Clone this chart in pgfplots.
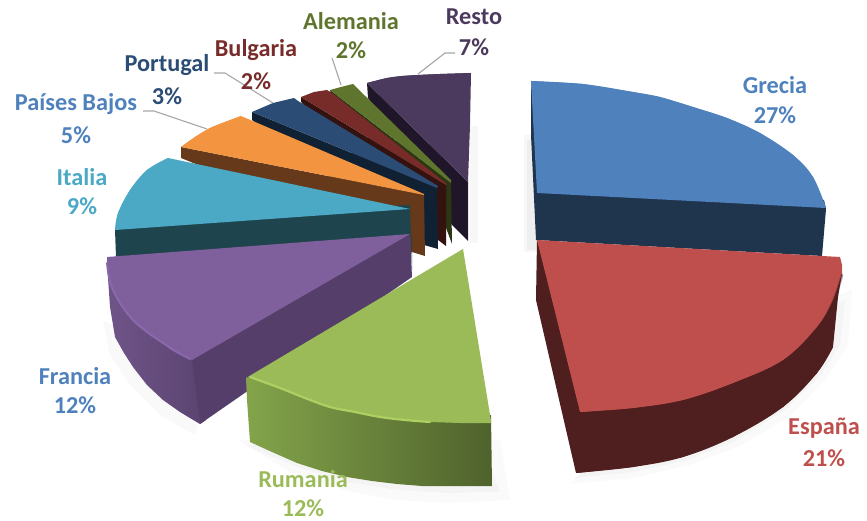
\documentclass[border=0pt]{standalone}
\usepackage{fontspec}
\setmainfont{Carlito}
\usepackage{pgfplots}
\pgfplotsset{compat=1.18}
\definecolor{cGr}{HTML}{4F81BD}\definecolor{cGrS}{HTML}{1F344D}
\definecolor{cEs}{HTML}{BE4F4C}\definecolor{cEsS}{HTML}{4E1F1E}
\definecolor{cRu}{HTML}{9BBB59}\definecolor{cRuL}{HTML}{83A44A}\definecolor{cRuR}{HTML}{4F622C}\definecolor{cRuH}{HTML}{AECF62}
\definecolor{cFr}{HTML}{7F609C}\definecolor{cFrS}{HTML}{553F6A}\definecolor{cFrO}{HTML}{6F5489}\definecolor{cFrH}{HTML}{8A68AC}
\definecolor{cIt}{HTML}{4BA9C5}\definecolor{cItS}{HTML}{1E444E}
\definecolor{cPb}{HTML}{F39441}\definecolor{cPbS}{HTML}{65391A}
\definecolor{cPt}{HTML}{2A4C75}\definecolor{cPtS}{HTML}{102133}
\definecolor{cBu}{HTML}{772C2A}\definecolor{cBuS}{HTML}{33120F}
\definecolor{cAl}{HTML}{5F752D}\definecolor{cAlS}{HTML}{2B3612}
\definecolor{cRe}{HTML}{4C3A5E}\definecolor{cReS}{HTML}{1F162A}
\definecolor{lead}{HTML}{A6A6A6}
\tikzset{
  pc/.style={draw=none,fill=#1},
  arc/.style={draw=none,fill=#1,smooth,tension=0.6},
  sh/.style={draw=none,fill=black,fill opacity=#1},
  lb/.style={font=\fontsize{24.3}{26}\selectfont\bfseries,text=#1,inner sep=0pt,anchor=center},
  ld/.style={draw=lead,line width=1.1pt,sharp plot},
  bev/.style={draw=#1,fill=none,smooth,tension=0.6,line cap=round},
}
\begin{document}
\begin{tikzpicture}
\useasboundingbox (0,0) rectangle (867pt,521pt);
\begin{axis}[at={(0,0)},anchor=south west,scale only axis,width=867pt,height=521pt,
  xmin=0,xmax=867,ymin=0,ymax=521,y dir=reverse,hide axis,clip=false,no markers]
% soft shadows
\addplot[sh=0.03] coordinates {(524,135)(524,252)(540,252)(540,135)};
\addplot[sh=0.03] coordinates {(527,140)(527,250)(540,250)(540,140)};
\addplot[sh=0.03] coordinates {(470,126)(478,126)(478,243)(470,243)};
\addplot[sh=0.02] coordinates {(570,484)(633,478)(690,465)(740,446)(790,416)(825,380)(848,345)(852,290)(700,350)};
\addplot[sh=0.025] coordinates {(575,478)(633,472)(685,461)(735,441)(785,410)(820,376)(840,345)(845,300)(700,350)};
\addplot[sh=0.02] coordinates {(238,440)(290,472)(347,491)(397,500)(447,503)(510,500)(500,440)};
\addplot[sh=0.025] coordinates {(245,445)(297,467)(347,482)(397,490)(447,493)(500,492)(480,440)};
\addplot[sh=0.025] coordinates {(103,320)(110,355)(130,385)(160,415)(195,435)(210,380)};
% Resto 7%
\addplot[pc=cReS] coordinates {(367,83)(468,182)(468,241)(452,225)(368,98)};
\addplot[arc=cRe] coordinates {(367,83)(387,78)(402,76)(418,75)(440,74)(471,73)};
\addplot[pc=cRe] coordinates {(367,83)(387,78)(402,76)(418,75)(440,74)(471,73)(470,125)(468,182)};
% Alemania 2%
\addplot[pc=cAlS] coordinates {(330,90)(451,183)(452,244)(445,225)(331,95)};
\addplot[pc=cAl] coordinates {(330,90)(341,87)(353,84)(451,180)(451,183)};
% Bulgaria 2%
\addplot[pc=cBuS] coordinates {(301,97)(446,185)(446,246)(438,240)(301,102)};
\addplot[pc=cBu] coordinates {(301,97)(314,92)(327,90)(332,93)(447,184)(446,185)};
% Portugal 3%
\addplot[pc=cPtS] coordinates {(252,112)(437,188)(438,249)(424,245)(252,120)};
\addplot[pc=cPt] coordinates {(252,112)(273,103)(294,98)(298,101)(438,186)(437,188)};
% Paises Bajos 5%
\addplot[pc=cPbS] coordinates {(181,147)(424,195)(425,256)(412,252)(181,158)};
\addplot[arc=cPb] coordinates {(181,147)(195,137)(210,128)(225,122)(241,116)};
\addplot[pc=cPb] coordinates {(181,147)(195,137)(210,128)(225,122)(241,116)(424,194)(424,195)};
% Italia 9%
\addplot[pc=cItS] coordinates {(115,230)(200,215)(410,205)(412,270)(412,236)(116,257)};
\addplot[arc=cIt] coordinates {(115,230)(118,213)(130,190)(147,170)(168,158)};
\addplot[pc=cIt] coordinates {(115,230)(118,213)(130,190)(147,170)(168,158)(410,209)};
% Francia 12%
\addplot[draw=none,left color=cFrO,right color=cFrS!80!cFrO] coordinates {(107,263)(110,307)(115,337)(124,353)(133,367)(147,385)(163,400)(180,412)(200,424)(206,420)(200,356)(175,340)(163,335)(147,325)(133,312)(122,300)(113,285)};
\addplot[pc=cFrS] coordinates {(410,234)(300,290)(192,360)(200,424)(412,277)};
\addplot[arc=cFr] coordinates {(107,263)(109,277)(113,290)(122,306)(133,320)(147,332)(163,343)(175,351)(192,360)};
\addplot[pc=cFr] coordinates {(107,257)(410,234)(192,360)(175,351)(163,343)(147,332)(133,320)(122,306)(113,290)(109,277)(107,263)};
\addplot[bev=cFrH,line width=2pt] coordinates {(107,263)(109,277)(113,290)(122,306)(133,320)(147,332)(163,343)(175,351)(190,359)};
% Grecia 27%
\addplot[pc=cGrS] coordinates {(531,81)(540,185)(824,200)(826,209)(822,256)(536,240)(531,135)};
\addplot[arc=cGr] coordinates {(531,81)(583,84)(633,92)(660,97)(693,107)(727,118)(760,133)(793,155)(813,177)(826,208)};
\addplot[pc=cGr] coordinates {(531,81)(583,84)(633,92)(660,97)(693,107)(727,118)(760,133)(793,155)(813,177)(826,208)(537,193)};
% Espana 21%
\addplot[pc=cEsS] coordinates {(537,240)(590,405)(588,425)(576,473)(536,300)};
\addplot[arc=cEsS] coordinates {(833,347)(817,373)(783,407)(733,437)(683,457)(633,467)(576,473)};
\addplot[pc=cEsS] coordinates {(580,400)(842,273)(838,297)(833,347)(817,373)(783,407)(733,437)(683,457)(633,467)(576,473)};
\addplot[arc=cEs] coordinates {(842,273)(833,300)(817,327)(783,360)(733,383)(683,400)(633,408)(580,412)};
\addplot[pc=cEs] coordinates {(537,240)(840,257)(842,265)(842,273)(833,300)(817,327)(783,360)(733,383)(683,400)(633,408)(580,412)};
\addplot[bev=cEsS,line width=3pt,draw opacity=0.3] coordinates {(842,275)(833,302)(817,329)(783,362)(733,385)(683,402)(633,410)(580,414)};
\addplot[bev=cEsS,line width=1.5pt,draw opacity=0.4] coordinates {(842,275)(833,302)(817,329)(783,362)(733,385)(683,402)(633,410)(580,414)};
% Rumania 12%
\addplot[draw=none,left color=cRuL,right color=cRuR] coordinates {(246,378)(247,400)(250,442)(272,452)(297,463)(322,471)(347,477)(372,481)(397,484)(422,486)(447,486)(470,486)(492,486)(491,415)(430,415)(380,410)(330,400)(280,384)(252,376)};
\addplot[pc=cRu] coordinates {(463,249)(491,421)(491,423)(460,423)(430,422)(405,420)(380,417)(355,412)(330,407)(305,398)(280,388)(262,381)(250,376)(246,378)};
\addplot[bev=cRuH,line width=2.2pt] coordinates {(250,377)(280,388)(305,398)(330,407)(355,412)(380,417)(405,420)(430,422)};
% leader lines
\addplot[ld] coordinates {(418,74)(445,53)(455,53)};
\addplot[ld] coordinates {(341,85)(332,58)};
\addplot[ld] coordinates {(273,103)(225,73)(214,73)};
\addplot[ld] coordinates {(207,129)(154,111)(143,111)};
% labels
\node[lb=cGr] at (axis cs:775,85) {Grecia};
\node[lb=cGr] at (axis cs:775,115) {27\%};
\node[lb=cEs] at (axis cs:824,428) {España};
\node[lb=cEs] at (axis cs:824,458) {21\%};
\node[lb=cRu] at (axis cs:303,479) {Rumania};
\node[lb=cRu] at (axis cs:303,508) {12\%};
\node[lb=cGr] at (axis cs:75,376) {Francia};
\node[lb=cGr] at (axis cs:75,405) {12\%};
\node[lb=cIt] at (axis cs:82,177) {Italia};
\node[lb=cIt] at (axis cs:82,206) {9\%};
\node[lb=cGr] at (axis cs:76,104) {Países Bajos};
\node[lb=cGr] at (axis cs:76,135) {5\%};
\node[lb=cPt] at (axis cs:167,65) {Portugal};
\node[lb=cPt] at (axis cs:167,96) {3\%};
\node[lb=cBu] at (axis cs:256,50) {Bulgaria};
\node[lb=cBu] at (axis cs:256,81) {2\%};
\node[lb=cAl] at (axis cs:351,21) {Alemania};
\node[lb=cAl] at (axis cs:351,50) {2\%};
\node[lb=cRe] at (axis cs:474,17) {Resto};
\node[lb=cRe] at (axis cs:474,47) {7\%};
\end{axis}
\end{tikzpicture}
\end{document}
